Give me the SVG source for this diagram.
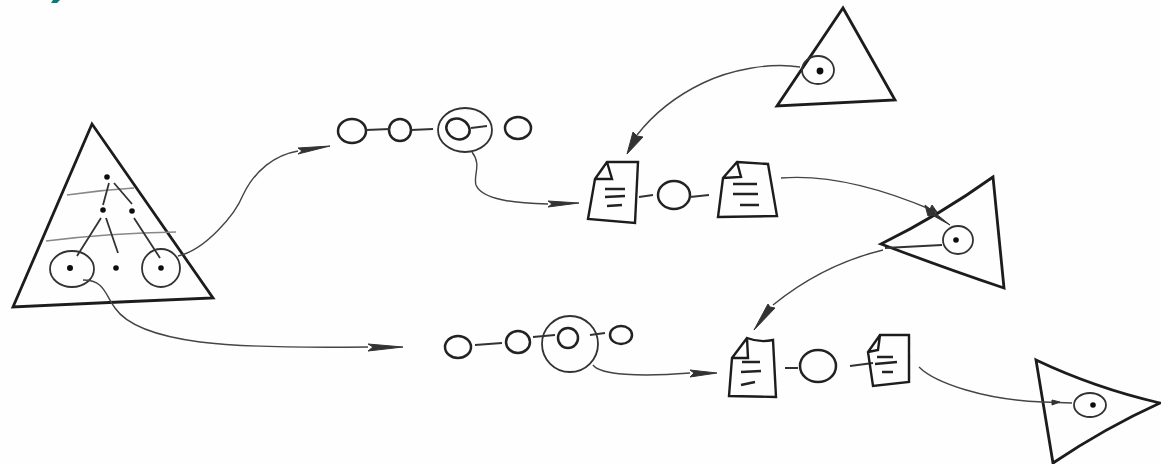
<svg xmlns="http://www.w3.org/2000/svg" width="1161" height="464" viewBox="0 0 1161 464">
<style>
.tri{fill:none;stroke:#1c1c1c;stroke-width:2.8;stroke-linejoin:miter}
.o{fill:none;stroke:#333;stroke-width:1.8}
.n{fill:none;stroke:#222;stroke-width:2.5}
.doc{fill:none;stroke:#1c1c1c;stroke-width:2.4}
.t{fill:none;stroke:#222;stroke-width:2.6}
.l{fill:none;stroke:#333;stroke-width:1.8}
.s{fill:none;stroke:#888;stroke-width:1.6}
.d{fill:#111}
.c{fill:none;stroke:#444;stroke-width:1.4}
.h{fill:#333;stroke:#333;stroke-width:1}
</style>
<defs><filter id="soft" x="-2%" y="-2%" width="104%" height="104%"><feGaussianBlur stdDeviation="0.5"/></filter></defs>
<rect width="1161" height="464" fill="#fefefe"/>
<path d="M51,3 L57,3 L60,0 L53,0 Z" fill="#0a7a78"/>
<g filter="url(#soft)">
<g id="tree-triangle">
<path class="tri" d="M92,124 L13,307 L120,302 L213,298 Z"/>
<path class="s" d="M67,195 Q100,190 134,188"/>
<path class="s" d="M46,241 Q110,233 176,232"/>
<path class="l" d="M109,183 L103,205 M114,183 L132,204 M101,218 L77,256 M106,218 L118,253 M134,218 L160,258"/>
<circle class="d" cx="107" cy="177" r="2.8"/><circle class="d" cx="103" cy="210" r="2.8"/><circle class="d" cx="132" cy="211" r="2.8"/>
<circle class="d" cx="70" cy="268" r="3"/><circle class="d" cx="116" cy="268" r="2.8"/><circle class="d" cx="161" cy="268" r="2.8"/>
<ellipse class="o" cx="72" cy="269" rx="22" ry="18"/>
<ellipse class="o" cx="161" cy="268" rx="19" ry="19"/>
</g>
<g id="chain-upper">
<ellipse class="n" cx="352" cy="131" rx="14" ry="12"/>
<circle class="n" cx="400" cy="130" r="11"/>
<ellipse class="o" cx="465" cy="130" rx="27" ry="22"/>
<ellipse class="n" cx="458" cy="129" rx="12" ry="10" transform="rotate(25 458 129)"/>
<ellipse class="n" cx="518" cy="128" rx="13" ry="11"/>
<path class="l" d="M366,130 L390,129 M411,130 L433,129 M471,128 L487,126"/>
</g>
<g id="chain-lower">
<ellipse class="n" cx="458" cy="347" rx="13" ry="11"/>
<ellipse class="n" cx="518" cy="342" rx="12" ry="11"/>
<circle class="o" cx="570" cy="344" r="28"/>
<circle class="n" cx="568" cy="338" r="10"/>
<ellipse class="n" cx="621" cy="335" rx="11" ry="9"/>
<path class="l" d="M475,345 L502,343 M533,337 L555,335 M590,335 L605,333"/>
</g>
<g id="doc-upper-a">
<path class="doc" d="M607,162 L638,162 L635,223 L588,219 L595,179 Z M595,179 L612,179 L607,162"/>
<path class="t" d="M605,189 L625,189 M605,197 L625,196 M607,206 L622,205"/>
</g>
<g id="joint-upper">
<ellipse class="n" cx="674" cy="195" rx="16" ry="14"/>
<path class="l" d="M639,197 L653,195 M690,197 L709,195"/>
</g>
<g id="doc-upper-b">
<path class="doc" d="M737,162 L768,164 L777,216 L718,217 L723,178 Z M723,178 L741,177 L737,162"/>
<path class="t" d="M733,184 L757,184 M733,194 L758,194 M740,205 L759,205"/>
</g>
<g id="doc-lower-a">
<path class="doc" d="M747,338 Q760,343 773,340 L776,397 L729,396 L732,358 Z M732,358 L748,358 L747,338"/>
<path class="t" d="M742,362 L760,362 M741,372 L761,371 M741,385 L755,382"/>
</g>
<g id="joint-lower">
<ellipse class="n" cx="818" cy="366" rx="18" ry="16"/>
<path class="l" d="M785,368 L798,368 M850,366 L873,363"/>
</g>
<g id="doc-lower-b">
<path class="doc" d="M880,335 L909,335 L909,382 L873,386 L868,352 Z M868,352 L878,350 L880,335"/>
<path class="t" d="M877,357 L893,357 M875,364 L897,362 M882,372 L893,372"/>
</g>
<g id="triangle-top">
<path class="tri" d="M843,8 L895,100 L777,106 Z"/>
<ellipse class="o" cx="818" cy="70" rx="16" ry="14"/>
<circle class="d" cx="820" cy="71" r="3.4"/>
</g>
<g id="triangle-middle">
<path class="tri" d="M993,177 Q940,215 881,244 Q950,270 1004,288 Z"/>
<ellipse class="o" cx="958" cy="240" rx="15" ry="14"/>
<circle class="d" cx="956" cy="240" r="2.8"/>
<path class="l" d="M885,248 L942,245"/>
</g>
<g id="triangle-bottom">
<path class="tri" d="M1036,360 Q1095,388 1160,403 Q1105,428 1053,463 Z"/>
<ellipse class="o" cx="1090" cy="405" rx="16" ry="12"/>
<circle class="d" cx="1093" cy="405" r="2.8"/>
</g>
<g id="connectors">
<path class="c" d="M178,256 C205,250 235,215 243,195 C255,170 275,155 298,151"/>
<path class="h" d="M298,148 L330,146 L298,154 L302,151 Z"/>
<path class="c" d="M83,280 C105,280 105,295 115,308 C130,330 170,338 200,342 C240,347 290,348 368,347"/>
<path class="h" d="M368,344 L403,347 L368,351 L373,347 Z"/>
<path class="c" d="M472,152 C482,165 473,175 476,185 C482,200 515,203 548,204"/>
<path class="h" d="M548,201 L579,203 L548,207 L552,204 Z"/>
<path class="c" d="M800,67 C770,62 730,70 703,83 C680,94 655,112 637,135"/>
<path class="h" d="M633,132 L627,154 L643,137 L637,136 Z"/>
<path class="c" d="M781,178 C830,174 885,190 932,210"/>
<path class="h" d="M925,205 L950,225 L932,215 L928,216 Z M932,205 L937,212 L928,213 Z"/>
<path class="c" d="M883,250 C850,258 810,275 773,305"/>
<path class="h" d="M768,304 L754,330 L775,308 L770,307 Z"/>
<path class="c" d="M593,365 C600,375 640,377 690,373"/>
<path class="h" d="M690,370 L717,373 L690,377 L694,373 Z"/>
<path class="c" d="M919,367 C935,383 985,400 1043,402 L1072,403"/>
<path class="h" d="M1052,400 L1060,402 L1052,405 Z"/>
</g>
</g>
</svg>
